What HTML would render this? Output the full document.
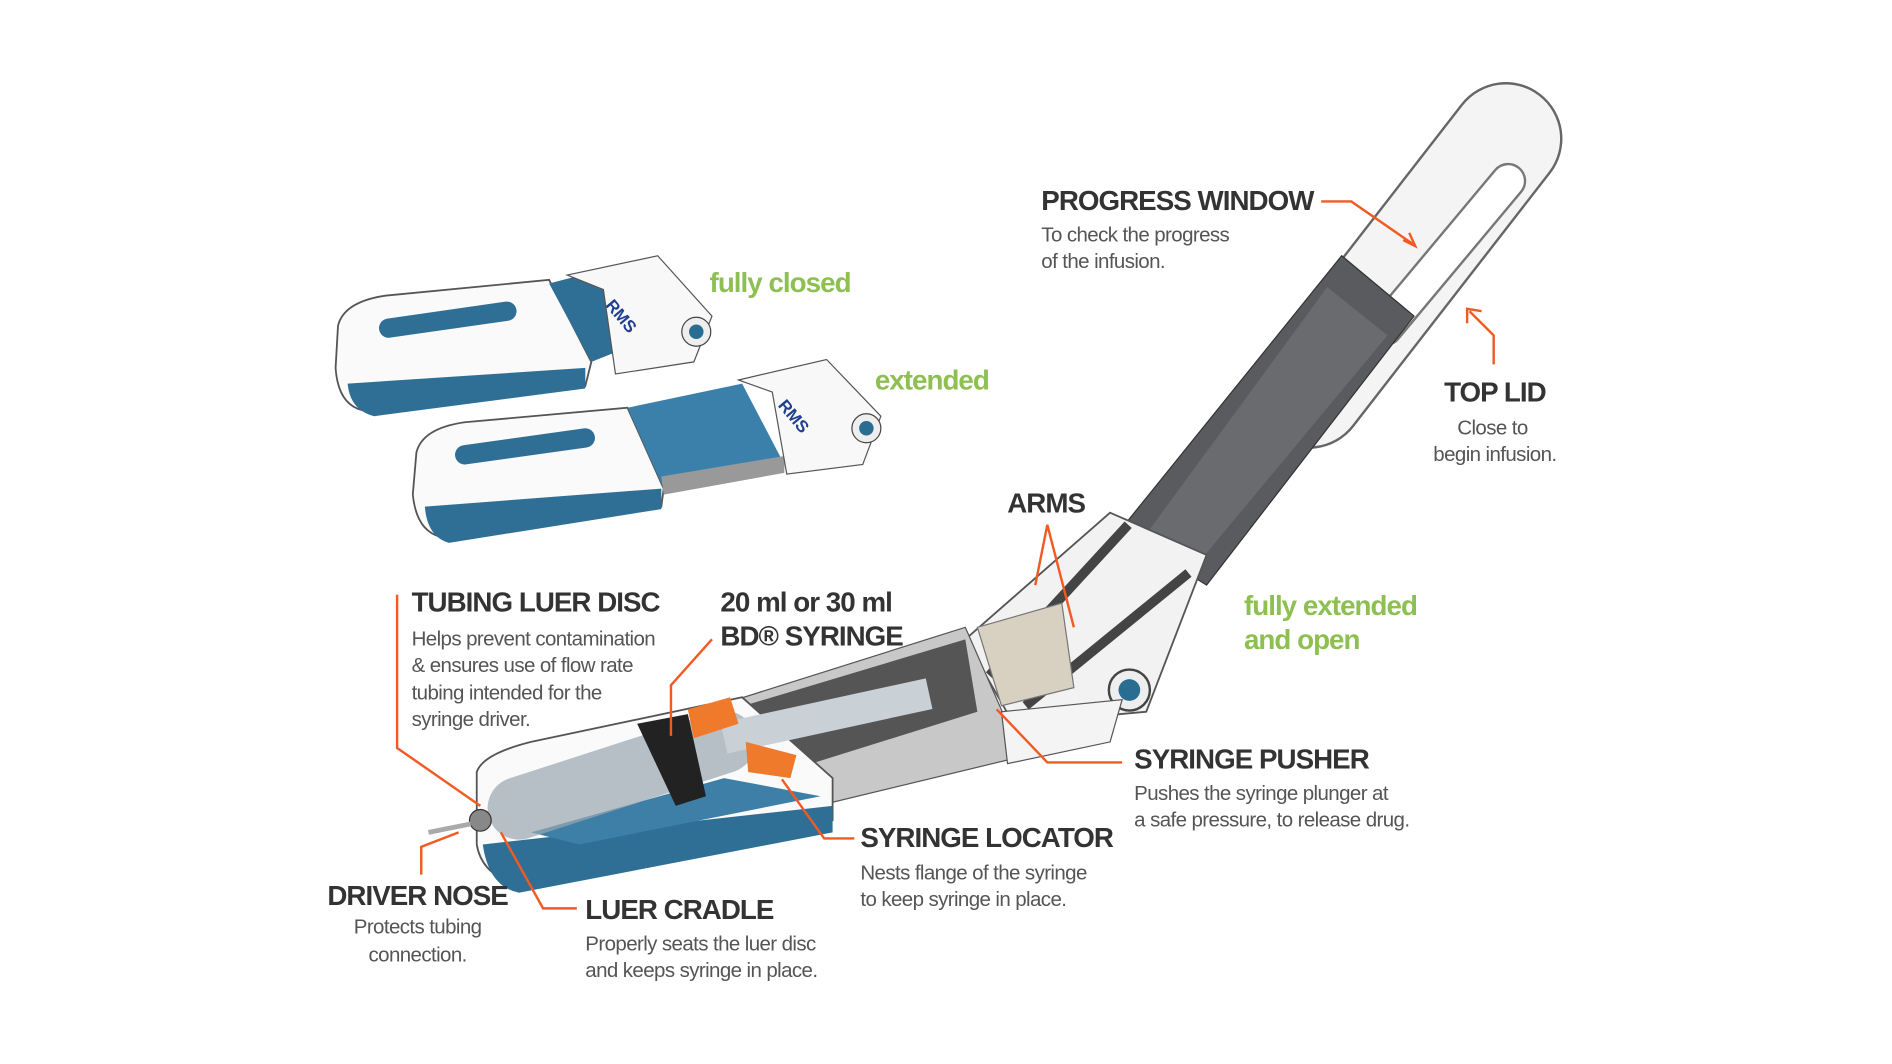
<!DOCTYPE html>
<html><head><meta charset="utf-8"><style>
html,body{margin:0;padding:0;background:#fff;}
svg{display:block}
.h{font-family:"Liberation Sans",sans-serif;font-weight:bold;font-size:23px;fill:#333;letter-spacing:-0.8px}
.d{font-family:"Liberation Sans",sans-serif;font-size:17px;fill:#555;letter-spacing:-0.5px}
.g{font-family:"Liberation Sans",sans-serif;font-weight:bold;font-size:23px;fill:#8dc051;letter-spacing:-0.8px}
.o{stroke:#f15a22;stroke-width:2;fill:none}
</style></head><body>
<svg width="1892" height="1064" viewBox="0 0 1568 882" xmlns="http://www.w3.org/2000/svg">
<!-- top lid -->
<line x1="1248" y1="115" x2="1085" y2="325" stroke="#666" stroke-width="94" stroke-linecap="round"/>
<line x1="1248" y1="115" x2="1085" y2="325" stroke="#f4f4f4" stroke-width="90" stroke-linecap="round"/>
<line x1="1250" y1="150" x2="1148" y2="272" stroke="#777" stroke-width="30" stroke-linecap="round"/>
<line x1="1250" y1="150" x2="1148" y2="272" stroke="#fff" stroke-width="26" stroke-linecap="round"/>
<!-- dark track -->
<polygon points="1112,212 1172,262 1000,485 928,440" fill="#5a5b5e" stroke="#333"/>
<polygon points="1100,238 1150,278 992,468 952,440" fill="#6a6b6e"/>
<!-- hinge area -->
<polygon points="920,425 1000,460 950,590 840,600 800,530" fill="#f2f2f2" stroke="#555" stroke-width="1.5"/>
<line x1="935" y1="435" x2="820" y2="560" stroke="#444" stroke-width="8"/>
<line x1="985" y1="475" x2="850" y2="585" stroke="#444" stroke-width="8"/>
<polygon points="810,520 880,500 890,570 830,585" fill="#d8d0c0" stroke="#777"/>
<circle cx="936" cy="572" r="17" fill="#eee" stroke="#444" stroke-width="2"/>
<circle cx="936" cy="572" r="9" fill="#2a6d93"/>
<!-- lower channel -->
<polygon points="610,580 800,520 835,600 835,630 690,665 640,645" fill="#c8c8c8" stroke="#555"/>
<polygon points="600,590 800,530 810,590 650,640" fill="#555"/>
<polygon points="830,590 930,580 920,615 835,633" fill="#f4f4f4" stroke="#555"/>
<!-- front housing -->
<path d="M395,640 Q400,625 440,615 L615,578 L690,645 L690,680 L440,735 Q400,730 395,700 Z" fill="#fafafa" stroke="#555" stroke-width="1.5"/>
<path d="M400,700 L690,668 L690,690 L430,740 Q405,735 400,700 Z" fill="#2f6f96"/>
<polygon points="440,690 600,645 680,660 480,700" fill="#3e7fa8"/>
<!-- syringe -->
<line x1="430" y1="670" x2="600" y2="615" stroke="#9aa7b0" stroke-width="52" stroke-linecap="round" opacity="0.7"/>
<line x1="600" y1="612" x2="770" y2="575" stroke="#c9d0d6" stroke-width="26"/>
<polygon points="570,588 605,578 612,600 575,612" fill="#f07a2b"/>
<polygon points="618,615 660,626 655,645 620,640" fill="#f07a2b"/>
<polygon points="528,600 570,592 585,660 560,668" fill="#222"/>
<circle cx="398" cy="680" r="9" fill="#888" stroke="#333"/>
<line x1="355" y1="690" x2="390" y2="683" stroke="#aaa" stroke-width="4"/>
<!-- closed device -->
<path d="M280,270 Q285,250 320,245 L455,232 L490,300 L485,320 L300,340 Q280,335 278,305 Z" fill="#fafafa" stroke="#555" stroke-width="1.5"/>
<path d="M288,318 L485,305 L485,322 L310,345 Q290,340 288,318 Z" fill="#2f6f96"/>
<line x1="322" y1="272" x2="420" y2="258" stroke="#2f6f96" stroke-width="16" stroke-linecap="round"/>
<polygon points="455,235 505,222 515,290 490,300" fill="#2f6f96"/>
<polygon points="470,228 545,212 590,262 575,300 510,310 500,240" fill="#f8f8f8" stroke="#555"/>
<text x="505" y="255" font-family="Liberation Sans" font-weight="bold" font-size="14" fill="#1f3f8f" transform="rotate(50 505 250)">RMS</text>
<circle cx="577" cy="275" r="12" fill="#eee" stroke="#444"/><circle cx="577" cy="275" r="6" fill="#2a6d93"/>
<!-- extended device -->
<path d="M345,375 Q350,355 385,350 L520,338 L550,405 L548,420 L365,445 Q345,440 342,410 Z" fill="#fafafa" stroke="#555" stroke-width="1.5"/>
<path d="M352,420 L548,405 L548,422 L372,450 Q354,445 352,420 Z" fill="#2f6f96"/>
<line x1="385" y1="377" x2="485" y2="363" stroke="#2f6f96" stroke-width="16" stroke-linecap="round"/>
<polygon points="520,338 615,318 650,385 550,405" fill="#3a80aa"/>
<polygon points="548,395 650,378 650,392 550,410" fill="#999"/>
<polygon points="612,315 685,298 730,345 715,385 652,393 640,325" fill="#f8f8f8" stroke="#555"/>
<text x="648" y="338" font-family="Liberation Sans" font-weight="bold" font-size="14" fill="#1f3f8f" transform="rotate(50 648 333)">RMS</text>
<circle cx="718" cy="355" r="12" fill="#eee" stroke="#444"/><circle cx="718" cy="355" r="6" fill="#2a6d93"/>

<!-- leaders -->
<path class="o" d="M1095,167 L1120,167 L1172,203"/><path class="o" d="M1163,199 L1173,204 L1168,193"/>
<path class="o" d="M1238,302 L1238,278 L1218,258"/><path class="o" d="M1216,268 L1216,256 L1228,258"/>
<path class="o" d="M868,435 L858,485 M868,435 L890,520"/>
<path class="o" d="M329,493 L329,620 L398,668"/>
<path class="o" d="M590,530 L556,568 L556,610"/>
<path class="o" d="M930,632 L868,632 L826,588"/>
<path class="o" d="M708,695 L683,695 L648,646"/>
<path class="o" d="M349,725 L349,702 L380,690"/>
<path class="o" d="M478,753 L450,753 L415,690"/>

<!-- labels -->
<text class="h" x="863" y="174">PROGRESS WINDOW</text>
<text class="d" x="863" y="200">To check the progress</text>
<text class="d" x="863" y="222">of the infusion.</text>
<text class="g" x="588" y="242">fully closed</text>
<text class="g" x="725" y="323">extended</text>
<text class="h" x="1239" y="333" text-anchor="middle">TOP LID</text>
<text class="d" x="1237" y="360" text-anchor="middle">Close to</text>
<text class="d" x="1239" y="382" text-anchor="middle">begin infusion.</text>
<text class="h" x="867" y="425" text-anchor="middle">ARMS</text>
<text class="g" x="1031" y="510">fully extended</text>
<text class="g" x="1031" y="538">and open</text>
<text class="h" x="341" y="507">TUBING LUER DISC</text>
<text class="d" x="341" y="535">Helps prevent contamination</text>
<text class="d" x="341" y="557">&amp; ensures use of flow rate</text>
<text class="d" x="341" y="580">tubing intended for the</text>
<text class="d" x="341" y="602">syringe driver.</text>
<text class="h" x="597" y="507">20 ml or 30 ml</text>
<text class="h" x="597" y="535">BD® SYRINGE</text>
<text class="h" x="940" y="637">SYRINGE PUSHER</text>
<text class="d" x="940" y="663">Pushes the syringe plunger at</text>
<text class="d" x="940" y="685">a safe pressure, to release drug.</text>
<text class="h" x="713" y="702">SYRINGE LOCATOR</text>
<text class="d" x="713" y="729">Nests flange of the syringe</text>
<text class="d" x="713" y="751">to keep syringe in place.</text>
<text class="h" x="346" y="750" text-anchor="middle">DRIVER NOSE</text>
<text class="d" x="346" y="774" text-anchor="middle">Protects tubing</text>
<text class="d" x="346" y="797" text-anchor="middle">connection.</text>
<text class="h" x="485" y="762">LUER CRADLE</text>
<text class="d" x="485" y="788">Properly seats the luer disc</text>
<text class="d" x="485" y="810">and keeps syringe in place.</text>
</svg>
</body></html>
